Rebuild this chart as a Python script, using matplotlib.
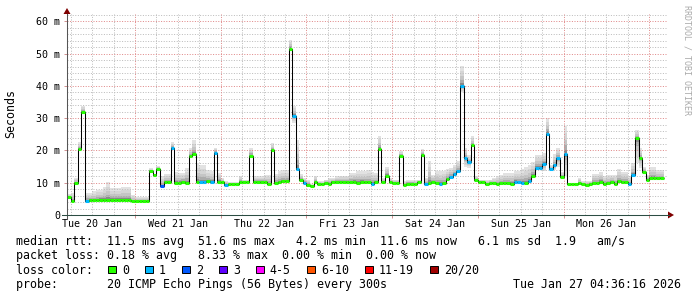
import numpy as np
import matplotlib
matplotlib.use("Agg")
import matplotlib.pyplot as plt
from matplotlib.patches import Polygon, Rectangle
from matplotlib.lines import Line2D

W, H = 697, 297

# hourly bins, hours counted from Tue 20 Jan 00:00; first bin starts at 04:00
first_hour = 4
median_ms = [
    30.5,
    5.6, 4.2, 9.9, 20.5, 31.9, 4.4, 4.6, 4.5, 4.6, 4.7,
    4.7, 4.7, 4.8, 4.7, 4.7, 4.8, 4.7, 4.6, 4.2, 4.2,
    4.2, 4.2, 4.2, 13.7, 12.3, 14.2, 8.9, 10.2, 10.2, 20.9,
    10.0, 10.0, 10.2, 10.0, 18.3, 19.0, 10.3, 10.2, 10.2, 10.5,
    10.2, 19.2, 10.3, 10.1, 9.3, 9.6, 9.6, 9.6, 10.1, 10.1,
    10.1, 18.4, 10.2, 10.2, 10.2, 10.1, 9.6, 20.0, 9.9, 10.1,
    10.4, 10.4, 51.6, 30.8, 14.3, 10.9, 10.0, 9.3, 8.9, 10.1,
    9.7, 9.5, 9.9, 9.6, 10.2, 10.2, 10.3, 10.2, 10.3, 10.2,
    10.3, 10.0, 10.3, 10.1, 10.1, 9.7, 10.1, 20.4, 10.2, 12.2,
    10.1, 9.8, 9.8, 18.4, 9.3, 9.7, 9.7, 9.6, 10.1, 18.7,
    9.5, 9.9, 10.2, 9.8, 9.6, 9.8, 11.1, 11.8, 12.6, 13.5,
    40.0, 17.6, 16.4, 21.6, 10.9, 10.1, 10.3, 9.6, 9.8, 9.8,
    9.6, 9.8, 9.8, 9.9, 9.7, 10.3, 10.1, 9.9, 9.8, 10.4,
    12.2, 14.7, 14.7, 15.8, 25.2, 14.2, 15.4, 17.6, 11.8, 19.0,
    9.6, 9.6, 9.6, 9.9, 9.6, 9.3, 9.7, 9.9, 9.9, 10.3,
    9.7, 9.9, 10.3, 9.6, 10.4, 10.2, 10.2, 9.6, 12.3, 23.8,
    17.6, 13.3, 10.9, 11.4, 11.4, 11.4, 11.4,
]
# slowest ping of each bin
smoke_max_ms = [
    32.0,
    6.4, 6.8, 11.5, 22.5, 33.8, 6.8, 6.8, 7.3, 7.8, 7.8,
    8.7, 10.1, 8.3, 8.3, 8.3, 8.8, 8.8, 8.8, 6.1, 5.5,
    5.5, 5.5, 5.5, 14.5, 12.8, 15.3, 12.0, 12.7, 12.7, 22.5,
    13.2, 13.0, 13.0, 14.5, 20.7, 23.1, 15.8, 15.5, 15.5, 13.8,
    13.5, 20.9, 13.0, 11.5, 10.6, 10.2, 10.2, 10.2, 12.2, 11.0,
    11.0, 20.7, 12.0, 12.0, 12.0, 12.5, 12.5, 22.3, 12.8, 13.5,
    14.0, 14.0, 54.3, 33.8, 23.3, 12.6, 11.5, 11.0, 9.5, 12.2,
    10.6, 10.6, 11.0, 11.5, 11.5, 12.0, 12.2, 12.2, 12.2, 13.0,
    13.0, 13.5, 13.5, 13.5, 14.0, 13.2, 13.0, 24.5, 11.5, 15.0,
    11.5, 11.0, 11.0, 19.7, 10.5, 11.0, 11.0, 11.0, 11.0, 20.5,
    11.6, 16.6, 12.5, 13.5, 13.5, 13.5, 14.2, 14.7, 15.5, 16.6,
    46.2, 20.8, 18.6, 24.5, 12.0, 11.0, 11.0, 11.0, 11.0, 11.5,
    12.0, 12.5, 13.0, 13.0, 13.0, 13.5, 13.5, 14.2, 15.0, 15.5,
    16.3, 18.7, 18.7, 19.2, 30.0, 15.5, 19.0, 20.7, 13.3, 27.6,
    10.0, 10.0, 10.0, 11.5, 10.5, 10.5, 10.5, 12.8, 12.8, 13.2,
    12.0, 12.4, 12.4, 12.4, 14.4, 13.4, 13.4, 12.2, 16.1, 26.4,
    20.7, 15.0, 12.4, 15.0, 15.0, 14.0, 14.0,
]
# fastest ping, only where the smoke reaches clearly below the median (key = index in median_ms)
smoke_min_ms = {64: 28.5, 111: 38.0, 112: 15.0, 113: 14.6, 134: 13.5,
                137: 13.8, 138: 15.0, 140: 12.0, 160: 16.0, 161: 14.5}
# lost pings per bin (index into loss_colors)
loss = [
    0,
    0, 0, 0, 0, 0, 1, 0, 0, 0, 0,
    0, 0, 0, 0, 0, 0, 0, 0, 0, 0,
    0, 0, 0, 0, 0, 0, 2, 0, 0, 1,
    0, 0, 0, 0, 0, 0, 0, 1, 1, 0,
    1, 1, 0, 0, 1, 0, 0, 0, 0, 0,
    0, 0, 0, 0, 0, 0, 0, 0, 0, 0,
    0, 0, 0, 1, 1, 0, 1, 0, 0, 0,
    0, 0, 0, 0, 0, 0, 0, 0, 0, 0,
    0, 0, 0, 0, 0, 1, 0, 0, 0, 0,
    0, 0, 0, 0, 0, 0, 0, 0, 0, 0,
    1, 0, 0, 0, 1, 0, 0, 1, 1, 1,
    1, 1, 1, 0, 0, 0, 0, 0, 0, 0,
    0, 0, 0, 0, 0, 1, 1, 1, 0, 1,
    0, 1, 1, 1, 1, 1, 1, 1, 0, 1,
    0, 0, 0, 0, 0, 0, 0, 0, 0, 0,
    0, 0, 0, 0, 0, 0, 0, 1, 1, 0,
    0, 0, 0, 0, 0, 0, 0,
]

loss_colors = ["#26ff00", "#00b8ff", "#0059ff", "#5e00ff", "#ff00ff", "#ff5500", "#ff0000", "#a00000"]
loss_labels = ["0", "1", "2", "3", "4-5", "6-10", "11-19", "20/20"]
day_labels = ["Tue 20 Jan", "Wed 21 Jan", "Thu 22 Jan", "Fri 23 Jan", "Sat 24 Jan", "Sun 25 Jan", "Mon 26 Jan"]
y_ticks = [0, 10, 20, 30, 40, 50, 60]
y_labels = ["0", "10 m", "20 m", "30 m", "40 m", "50 m", "60 m"]

rtt_line = "median rtt:  11.5 ms avg  51.6 ms max   4.2 ms min  11.6 ms now   6.1 ms sd  1.9   am/s"
loss_line = "packet loss: 0.18 % avg   8.33 % max  0.00 % min  0.00 % now"
probe_line = "probe:       20 ICMP Echo Pings (56 Bytes) every 300s"
stamp = "Tue Jan 27 04:36:16 2026"

plt.rcParams["font.family"] = "DejaVu Sans Mono"
LEG = 8.37   # 7 px per character
TICK = 7.17  # 6 px per character


def fx(px):
    return px / W


def fy(py):
    return 1 - py / H


fig = plt.figure(figsize=(W / 100, H / 100), dpi=100)
ax = fig.add_axes([fx(67), fy(215), 600 / W, 201 / H])
x0 = 4.96
ymax = 62.3
ax.set_xlim(x0, x0 + 168)
ax.set_ylim(0, ymax)
for s in ax.spines.values():
    s.set_visible(False)

med = np.array(median_ms)
hi = np.array(smoke_max_ms)
lo = med.copy()
for k, v in smoke_min_ms.items():
    lo[k] = v
edges = first_hour + np.arange(len(med) + 1)

# smoke, light on the outside, darker towards the median
shades = [(1.0, "#e2e2e2"), (0.75, "#d5d5d5"), (0.5, "#c5c5c5"), (0.3, "#acacac"), (0.15, "#888888")]
for frac, col in shades:
    ax.stairs(med + frac * (hi - med), edges, baseline=med - frac * (med - lo),
              fill=True, color=col, lw=0, zorder=1)

# dotted grid
hours6 = np.arange(6, 180, 6)
minor_x = [h for h in hours6 if h % 24 and x0 < h < x0 + 168]
major_x = [h for h in hours6 if h % 24 == 0 and x0 < h < x0 + 168]
minor_y = [v for v in range(2, 63, 2) if v % 10]
major_y = [v for v in range(10, 61, 10)]
grid_kw = dict(linestyles=(0, (1, 1.6)), lw=0.72, zorder=2)
ax.vlines(minor_x, 0, ymax, colors="#bdbdbd", **grid_kw)
ax.hlines(minor_y, x0, x0 + 168, colors="#bdbdbd", **grid_kw)
ax.vlines(major_x, 0, ymax, colors="#e08a8a", **grid_kw)
ax.hlines(major_y, x0, x0 + 168, colors="#e08a8a", **grid_kw)

# median line coloured by loss
ax.stairs(med, edges, baseline=None, color="black", lw=0.75, zorder=3)
ax.hlines(med, edges[:-1], edges[1:], colors=[loss_colors[l] for l in loss], lw=2.2, zorder=4)

# ticks
ax.set_yticks(y_ticks, y_labels)
ax.tick_params(axis="y", length=2.2, width=0.7, color="#d09090", pad=2.8, labelsize=TICK)
ax.set_xticks(major_x, [""] * len(major_x))
ax.tick_params(axis="x", which="major", length=2.2, width=0.7, color="#d09090")
ax.set_xticks([d * 24 + 12 for d in range(len(day_labels))], day_labels, minor=True)
ax.tick_params(axis="x", which="minor", length=0, pad=2.9, labelsize=TICK)

# axes with arrows
fig.add_artist(Line2D([fx(67), fx(67)], [fy(219), fy(14)], color="#555555", lw=0.75))
fig.add_artist(Line2D([fx(62), fx(669)], [fy(215), fy(215)], color="#2c4d43", lw=0.75))
fig.add_artist(Polygon([(fx(63.5), fy(14)), (fx(70.5), fy(14)), (fx(67), fy(8))], closed=True, color="#7f0000", lw=0))
fig.add_artist(Polygon([(fx(668), fy(211.5)), (fx(668), fy(218.5)), (fx(674), fy(215))], closed=True, color="#7f0000", lw=0))

fig.text(fx(10.5), fy(114), "Seconds", rotation=90, ha="center", va="center", fontsize=LEG)
fig.text(fx(687), fy(60), "RRDTOOL / TOBI OETIKER", rotation=270, ha="center", va="center",
         fontsize=6, color="#aaaaaa")

# legend
fig.text(fx(16), fy(245), rtt_line, fontsize=LEG, va="baseline")
fig.text(fx(16), fy(259.4), loss_line, fontsize=LEG, va="baseline")
fig.text(fx(16), fy(273.8), "loss color:", fontsize=LEG, va="baseline")
fig.text(fx(16), fy(288.2), probe_line, fontsize=LEG, va="baseline")
fig.text(fx(16 + 71 * 7), fy(288.2), stamp, fontsize=LEG, va="baseline")

bx = 108.3
for col, lab in zip(loss_colors, loss_labels):
    fig.add_artist(Rectangle((fx(bx), fy(273)), 7.5 / W, 7.5 / H, facecolor=col, edgecolor="black", lw=0.7))
    fig.text(fx(bx + 13.5), fy(273.8), lab, fontsize=LEG, va="baseline")
    bx += 13.5 + 7 * len(lab) + 16.5

fig.savefig("out.png", dpi=100)
plt.close(fig)
